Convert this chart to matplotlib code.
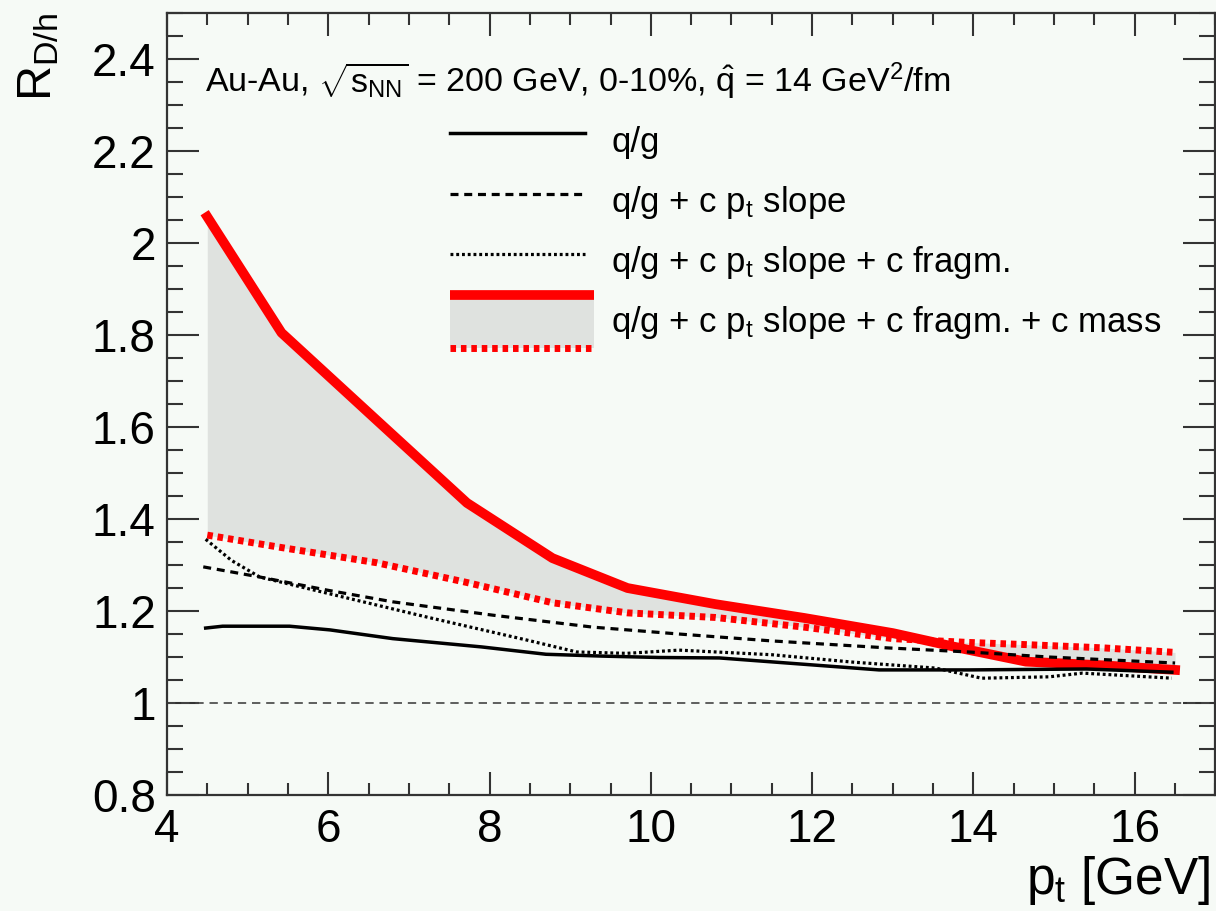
import matplotlib
matplotlib.use("Agg")
import matplotlib.pyplot as plt
from matplotlib.ticker import MultipleLocator, FuncFormatter
from matplotlib.legend_handler import HandlerBase
from matplotlib.patches import Rectangle
from matplotlib.lines import Line2D

plt.rcParams["font.family"] = ["Liberation Sans", "DejaVu Sans"]
plt.rcParams["mathtext.fontset"] = "custom"
plt.rcParams["mathtext.rm"] = "Liberation Sans"
plt.rcParams["mathtext.it"] = "Liberation Sans"
plt.rcParams["mathtext.bf"] = "Liberation Sans:bold"

# red band: q/g + c pt slope + c fragm. + c mass (upper / lower edge)
pt_band = [4.5, 5.42, 6.6, 7.72, 8.78, 9.71, 10.8, 11.9, 13.0, 13.9, 14.65, 15.6, 16.5]
r_mass_hi = [2.057, 1.805, 1.615, 1.435, 1.315, 1.25, 1.215, 1.185, 1.152, 1.117, 1.09, 1.082, 1.072]
r_mass_lo = [1.365, 1.338, 1.305, 1.262, 1.218, 1.196, 1.186, 1.165, 1.14, 1.132, 1.127, 1.12, 1.11]

# q/g + c pt slope
pt_slope = [4.45, 5.15, 6.0, 6.8, 8.04, 9.28, 10.35, 11.5, 12.92, 13.94, 14.94, 16.5]
r_slope = [1.296, 1.274, 1.245, 1.22, 1.191, 1.165, 1.15, 1.135, 1.12, 1.111, 1.1, 1.087]

# q/g + c pt slope + c fragm.
pt_frag = [4.48, 4.8, 5.15, 5.98, 7.22, 8.46, 9.08, 9.7, 10.35, 11.5, 12.5, 13.53, 14.1, 14.94, 15.35, 15.76, 16.46]
r_frag = [1.356, 1.31, 1.274, 1.239, 1.187, 1.137, 1.111, 1.108, 1.115, 1.105, 1.089, 1.076, 1.054, 1.057, 1.065, 1.061, 1.054]

# q/g
pt_qg = [4.48, 4.69, 5.52, 6.02, 6.8, 7.9, 8.7, 9.4, 10.1, 10.85, 12.83, 13.94, 15.4, 16.46]
r_qg = [1.163, 1.167, 1.167, 1.159, 1.14, 1.122, 1.106, 1.102, 1.099, 1.098, 1.072, 1.072, 1.074, 1.067]

bg = "#f6faf6"
grey = "#dfe2df"
red = "#ff0000"


class BandHandler(HandlerBase):
    def create_artists(self, legend, orig_handle, xdescent, ydescent, width, height, fontsize, trans):
        x0, y0 = -xdescent, -ydescent
        w = width * 1.06
        box = Rectangle((x0, y0), w, height, facecolor=grey, edgecolor="none", transform=trans)
        top = Line2D([x0, x0 + w], [y0 + height] * 2, color=red, lw=7, solid_capstyle="butt", transform=trans)
        bot = Line2D([x0, x0 + w], [y0] * 2, color=red, lw=5, dashes=(0.8, 0.7), transform=trans)
        return [box, top, bot]


fig = plt.figure(figsize=(12.16, 9.11), dpi=100, facecolor=bg)
ax = fig.add_axes([0.1373, 0.1273, 0.8622, 0.8584])
ax.set_facecolor(bg)

ax.fill_between(pt_band, r_mass_lo, r_mass_hi, color=grey, lw=0, zorder=1)
ax.plot(pt_band, r_mass_hi, color=red, lw=7, zorder=2)
ax.plot(pt_band, r_mass_lo, color=red, lw=5, dashes=(0.8, 0.7), zorder=2)
ax.axhline(1.0, color="#444444", lw=1.2, dashes=(5, 3.5), zorder=2)
l1, = ax.plot(pt_qg, r_qg, color="black", lw=2.5, zorder=3)
l2, = ax.plot(pt_slope, r_slope, color="black", lw=2.3, dashes=(2.5, 1.8), zorder=3)
l3, = ax.plot(pt_frag, r_frag, color="black", lw=2.3, dashes=(0.9, 0.9), zorder=3)

ax.set_xlim(4, 17)
ax.set_ylim(0.8, 2.5)
ax.xaxis.set_major_locator(MultipleLocator(2))
ax.xaxis.set_minor_locator(MultipleLocator(0.5))
ax.yaxis.set_major_locator(MultipleLocator(0.2))
ax.yaxis.set_minor_locator(MultipleLocator(0.05))
ax.yaxis.set_major_formatter(FuncFormatter(lambda v, p: "%g" % round(v, 2)))
ax.tick_params(which="both", direction="in", top=True, right=True, width=1.5, color="#333333")
ax.tick_params(axis="x", which="major", length=16.5, pad=9, labelsize=33)
ax.tick_params(axis="x", which="minor", length=8.5)
ax.tick_params(axis="y", which="major", length=23, pad=8, labelsize=33)
ax.tick_params(axis="y", which="minor", length=11.5)
for s in ax.spines.values():
    s.set_linewidth(1.6)
    s.set_color("#333333")

ax.set_xlabel("$p_{t}$ [GeV]", fontsize=37, loc="right")
ax.xaxis.set_label_coords(0.995, -0.075)
ax.set_ylabel("$R_{D/h}$", fontsize=35, loc="top")
ax.yaxis.set_label_coords(-0.101, 1.0)

ax.text(0.036, 0.914, r"Au-Au, $\sqrt{s_{\mathrm{NN}}}$ = 200 GeV, 0-10%, $\hat{q}$ = 14 GeV$^{2}$/fm",
        transform=ax.transAxes, fontsize=24.5, va="center", ha="left")

band = Rectangle((0, 0), 1, 1)
ax.legend([l1, l2, l3, band],
          ["q/g", "q/g + c $p_{t}$ slope", "q/g + c $p_{t}$ slope + c fragm.",
           "q/g + c $p_{t}$ slope + c fragm. + c mass"],
          handler_map={Rectangle: BandHandler()},
          loc="upper left", bbox_to_anchor=(0.27, 0.87), frameon=False, fontsize=25,
          borderpad=0, borderaxespad=0, handlelength=3.9, handleheight=1.95,
          handletextpad=0.75, labelspacing=0.22)

fig.savefig("out.png", dpi=100, facecolor=bg)
